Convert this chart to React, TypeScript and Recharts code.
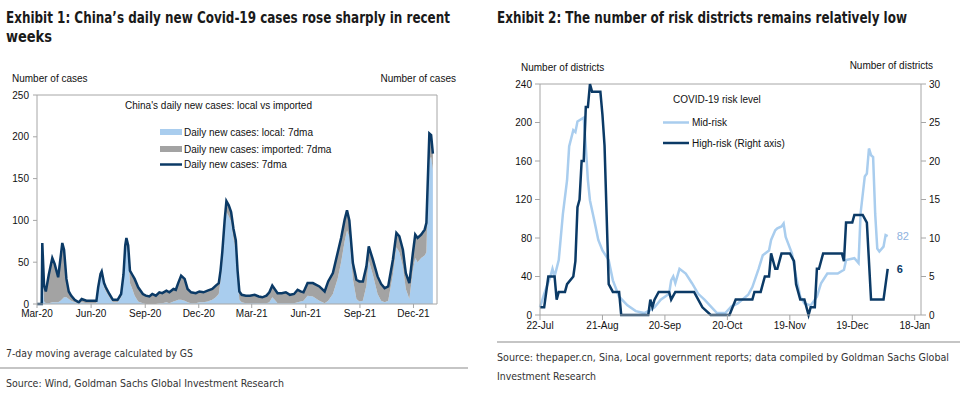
import React from "react"
import {
  ComposedChart,
  LineChart,
  Area,
  Line,
  XAxis,
  YAxis,
  ReferenceLine,
  LabelList,
} from "recharts"

const NAVY = "#0b3a66"
const LIGHT = "#a9cdee"
const GRAY = "#a3a3a3"
const AXIS = "#a6a6a6"
const FONT = "'Liberation Sans', Arial, sans-serif"
const NARROW = "'Liberation Sans Narrow', 'DejaVu Sans Condensed', 'Liberation Sans', Arial, sans-serif"

// Exhibit 1: days since 1 Mar 2020, 7dma cases
const caseDays = [
  0, 8, 9, 12, 15, 20, 26, 30, 36, 40,
  43, 46, 50, 54, 58, 64, 71, 76, 84, 92,
  101, 104, 108, 110, 114, 117, 123, 129, 137, 143,
  147, 150, 152, 155, 158, 162, 166, 172, 180, 185,
  191, 196, 202, 208, 213, 220, 225, 232, 236, 240,
  245, 251, 256, 262, 270, 276, 283, 290, 298, 304,
  309, 312, 315, 319, 322, 326, 330, 334, 338, 341,
  344, 348, 355, 362, 370, 377, 383, 390, 395, 400,
  404, 409, 416, 423, 430, 437, 443, 448, 453, 460,
  469, 480, 489, 495, 503, 511, 517, 523, 527, 531,
  537, 543, 548, 554, 560, 564, 571, 579, 585, 591,
  597, 605, 611, 616, 622, 627, 633, 639, 643, 647,
  653, 659, 662, 664, 667, 670, 673,
]
const totalCases = [
  0, 0, 73, 22, 15, 35, 55, 48, 32, 55,
  73, 65, 30, 15, 10, 5, 2, 6, 4, 4,
  4, 20, 36, 39, 25, 20, 12, 5, 5, 12,
  35, 70, 79, 70, 40, 35, 30, 20, 12, 10,
  9, 12, 10, 14, 13, 16, 14, 18, 17, 25,
  34, 30, 18, 14, 13, 15, 14, 16, 18, 22,
  25, 40, 62, 100, 123, 118, 110, 90, 76, 40,
  15, 11, 10, 10, 11, 9, 8, 10, 14, 22,
  18, 13, 13, 14, 11, 12, 17, 15, 14, 25,
  25, 21, 15, 27, 37, 61, 79, 101, 112, 100,
  49, 29, 27, 27, 45, 69, 53, 33, 24, 19,
  21, 53, 85, 81, 65, 37, 25, 61, 83, 79,
  83, 89, 97, 140, 204, 202, 180,
]
const localCases = [
  0, 0, 50, 3, 1, 1, 2, 2, 2, 4,
  6, 8, 8, 6, 4, 2, 1, 2, 1, 1,
  1, 17, 32, 35, 20, 15, 8, 2, 2, 8,
  30, 62, 70, 58, 25, 18, 10, 3, 1, 0,
  0, 0, 0, 1, 1, 2, 1, 3, 4, 5,
  5, 4, 2, 1, 1, 2, 2, 3, 5, 8,
  12, 28, 50, 88, 110, 105, 98, 78, 64, 30,
  5, 2, 1, 1, 1, 1, 1, 1, 2, 8,
  5, 1, 1, 1, 1, 1, 2, 3, 4, 10,
  9, 4, 1, 4, 12, 30, 50, 75, 88, 80,
  30, 6, 3, 4, 22, 52, 35, 12, 4, 2,
  4, 35, 68, 62, 45, 18, 6, 40, 55, 50,
  55, 58, 62, 118, 172, 176, 160,
]
const caseTickDays = [0, 92, 184, 275, 365, 457, 549, 640]
const caseTickLabels = ["Mar-20", "Jun-20", "Sep-20", "Dec-20", "Mar-21", "Jun-21", "Sep-21", "Dec-21"]
const caseYTicks = [0, 50, 100, 150, 200, 250]

// Exhibit 2: days since 22 Jul 2021
const midDays = [
  0, 2, 5, 6, 7, 9, 11, 13, 14, 16,
  17, 18, 21, 22, 23, 24, 26, 28, 30, 33,
  35, 38, 42, 46, 50, 53, 55, 58, 62, 63,
  64, 65, 67, 70, 73, 76, 79, 82, 85, 89,
  92, 95, 100, 102, 105, 107, 110, 111, 113, 114,
  116, 117, 118, 121, 123, 125, 127, 130, 133, 135,
  138, 143, 146, 147, 151, 153, 154, 156, 157, 158,
  159, 160, 161, 162, 163, 165, 166, 167,
]
const midRisk = [
  8, 22, 40, 48, 40, 57, 105, 140, 175, 192,
  190, 201, 205, 175, 140, 119, 99, 78, 67, 57,
  36, 19, 10, 4, 2, 5, 8, 16, 22, 36,
  40, 33, 48, 43, 33, 22, 16, 9, 2, 2,
  9, 12, 21, 29, 48, 62, 67, 78, 88, 90,
  92, 95, 81, 64, 40, 19, 12, 10, 19, 33,
  43, 43, 47, 57, 59, 54, 106, 144, 147, 173,
  166, 164, 105, 69, 66, 71, 83, 82,
]
const highDays = [
  0, 2, 4, 7, 8, 9, 12, 13, 16, 17,
  18, 19, 20, 21, 22, 23, 24, 25, 29, 30,
  31, 32, 33, 35, 38, 39, 52, 53, 54, 55,
  57, 62, 63, 65, 74, 76, 78, 82, 91, 94,
  102, 103, 106, 107, 108, 110, 111, 113, 114, 116,
  120, 122, 123, 125, 127, 129, 130, 132, 133, 134,
  136, 145, 146, 147, 150, 151, 155, 157, 159, 165,
  167,
]
const highRisk = [
  1, 1, 5, 5, 2, 3, 3, 4, 5, 7,
  14, 15, 20, 20, 27, 27, 30, 29, 29, 26,
  22, 13, 4, 3, 3, 0, 0, 2, 1, 2,
  3, 3, 2, 3, 3, 2, 1, 0, 0, 2,
  2, 3, 3, 4, 5, 5, 8, 6, 6, 8,
  8, 7, 4, 2, 2, 0, 1, 1, 6, 6,
  8, 8, 7, 12, 12, 13, 13, 12, 2, 2,
  6,
]
const riskTickDays = [0, 30, 60, 90, 120, 150, 180]
const riskTickLabels = ["22-Jul", "21-Aug", "20-Sep", "20-Oct", "19-Nov", "19-Dec", "18-Jan"]
const midTicks = [0, 40, 80, 120, 160, 200, 240]
const highTicks = [0, 5, 10, 15, 20, 25, 30]

const caseData = caseDays.map((d, i) => ({
  d,
  local: localCases[i],
  imported: totalCases[i] - localCases[i],
  total: totalCases[i],
}))

const riskDays = Array.from(new Set([...midDays, ...highDays])).sort((a, b) => a - b)
const riskData = riskDays.map((d) => {
  const m = midDays.indexOf(d)
  const h = highDays.indexOf(d)
  return { d, mid: m >= 0 ? midRisk[m] : null, high: h >= 0 ? highRisk[h] : null }
})
const lastRisk = riskData.length - 1

const tickStyle = { fill: "#111", fontSize: 10, fontFamily: FONT }

function CasesChart() {
  return (
    <ComposedChart
      width={480}
      height={330}
      data={caseData}
      margin={{ top: 95, right: 8, bottom: 6, left: 7 }}
    >
      <XAxis
        dataKey="d"
        type="number"
        domain={[0, 680]}
        ticks={caseTickDays}
        tickFormatter={(v) => caseTickLabels[caseTickDays.indexOf(v)]}
        tick={tickStyle}
        stroke={AXIS}
        tickSize={4}
        tickMargin={2}
        height={20}
        interval={0}
      />
      <YAxis
        yAxisId="l"
        domain={[0, 250]}
        ticks={caseYTicks}
        tick={tickStyle}
        stroke={AXIS}
        tickSize={4}
        tickMargin={4}
        width={30}
      />
      <YAxis
        yAxisId="r"
        orientation="right"
        domain={[0, 250]}
        ticks={caseYTicks}
        tick={tickStyle}
        stroke={AXIS}
        tickSize={2}
        tickMargin={1}
        width={35}
      />
      <ReferenceLine yAxisId="l" y={250} stroke={AXIS} />
      <Area
        yAxisId="l"
        type="linear"
        dataKey="local"
        stackId="a"
        stroke="none"
        fill={LIGHT}
        fillOpacity={1}
        isAnimationActive={false}
      />
      <Area
        yAxisId="l"
        type="linear"
        dataKey="imported"
        stackId="a"
        stroke="none"
        fill={GRAY}
        fillOpacity={1}
        isAnimationActive={false}
      />
      <Line
        yAxisId="l"
        type="linear"
        dataKey="total"
        stroke={NAVY}
        strokeWidth={2.5}
        dot={false}
        activeDot={false}
        isAnimationActive={false}
      />
    </ComposedChart>
  )
}

function RiskChart() {
  return (
    <LineChart
      width={479}
      height={335}
      data={riskData}
      margin={{ top: 84, right: 8, bottom: 0, left: 10 }}
    >
      <XAxis
        dataKey="d"
        type="number"
        domain={[0, 183]}
        ticks={riskTickDays}
        tickFormatter={(v) => riskTickLabels[riskTickDays.indexOf(v)]}
        tick={tickStyle}
        stroke={AXIS}
        tickSize={5}
        tickMargin={2}
        height={20}
        interval={0}
      />
      <YAxis
        yAxisId="l"
        domain={[0, 240]}
        ticks={midTicks}
        tick={tickStyle}
        stroke={AXIS}
        tickSize={5}
        tickMargin={3}
        width={40}
      />
      <YAxis
        yAxisId="r"
        orientation="right"
        domain={[0, 30]}
        ticks={highTicks}
        tick={tickStyle}
        stroke={AXIS}
        tickSize={5}
        tickMargin={3}
        width={40}
      />
      <ReferenceLine yAxisId="l" y={240} stroke={AXIS} />
      <Line
        yAxisId="l"
        type="linear"
        dataKey="mid"
        stroke={LIGHT}
        strokeWidth={2.5}
        dot={false}
        activeDot={false}
        connectNulls
        isAnimationActive={false}
      >
        <LabelList
          dataKey="mid"
          content={(p: any) =>
            p.index === lastRisk ? (
              <text x={p.x + 9} y={p.y + 4} fontSize={11} fontFamily={FONT} fill="#8eb2de">
                {p.value}
              </text>
            ) : null
          }
        />
      </Line>
      <Line
        yAxisId="r"
        type="linear"
        dataKey="high"
        stroke={NAVY}
        strokeWidth={2.5}
        dot={false}
        activeDot={false}
        connectNulls
        isAnimationActive={false}
      >
        <LabelList
          dataKey="high"
          content={(p: any) =>
            p.index === lastRisk ? (
              <text
                x={p.x + 9}
                y={p.y + 4}
                fontSize={11}
                fontWeight="bold"
                fontFamily={FONT}
                fill={NAVY}
              >
                {p.value}
              </text>
            ) : null
          }
        />
      </Line>
    </LineChart>
  )
}

// squeezed text: scaled horizontally so that it spans exactly `w` pixels
function Narrow({ x, y, w, sx, style, children }: any) {
  return (
    <text
      transform={`translate(${x},${y}) scale(${sx},1)`}
      textLength={w / sx}
      lengthAdjust="spacingAndGlyphs"
      {...style}
    >
      {children}
    </text>
  )
}

function Overlay() {
  const t = { fontFamily: FONT, fontSize: 10, fill: "#111" }
  const title = { fontFamily: NARROW, fontSize: 16.5, fontWeight: 700, fill: "#1a1a1a" }
  const foot = { fontFamily: NARROW, fontSize: 11, fill: "#333" }
  return (
    <svg
      width={969}
      height={394}
      style={{ position: "absolute", left: 0, top: 0, pointerEvents: "none" }}
    >
      <Narrow x={6} y={22.5} w={444} sx={0.8} style={title}>
        Exhibit 1: China’s daily new Covid-19 cases rose sharply in recent
      </Narrow>
      <Narrow x={6} y={42} w={46} sx={0.8} style={title}>
        weeks
      </Narrow>
      <Narrow x={497} y={22.5} w={410} sx={0.8} style={title}>
        Exhibit 2: The number of risk districts remains relatively low
      </Narrow>

      <text x={12} y={82} {...t}>Number of cases</text>
      <text x={456} y={82} {...t} textAnchor="end">Number of cases</text>
      <text x={521} y={71} {...t}>Number of districts</text>
      <text x={933} y={69} {...t} textAnchor="end">Number of districts</text>

      <text x={125} y={108.5} {...t}>China's daily new cases: local vs imported</text>
      <rect x={160} y={129} width={22} height={6} fill={LIGHT} />
      <text x={184} y={135.5} {...t}>Daily new cases: local: 7dma</text>
      <rect x={160} y={146} width={22} height={6} fill={GRAY} />
      <text x={184} y={152.5} {...t}>Daily new cases: imported: 7dma</text>
      <line x1={160} x2={182} y1={164.5} y2={164.5} stroke={NAVY} strokeWidth={2.5} />
      <text x={184} y={168} {...t}>Daily new cases: 7dma</text>

      <text x={673} y={102.5} {...t}>COVID-19 risk level</text>
      <line x1={663} x2={689} y1={122.5} y2={122.5} stroke={LIGHT} strokeWidth={2.5} />
      <text x={692} y={126} {...t}>Mid-risk</text>
      <line x1={663} x2={689} y1={143} y2={143} stroke={NAVY} strokeWidth={2.5} />
      <text x={692} y={146.5} {...t}>High-risk (Right axis)</text>

      <Narrow x={6} y={357} w={187} sx={0.85} style={foot}>
        7-day moving average calculated by GS
      </Narrow>
      <line x1={0} x2={468} y1={368} y2={368} stroke="#8c8c8c" strokeWidth={1.2} />
      <Narrow x={6} y={387} w={278} sx={0.85} style={foot}>
        Source: Wind, Goldman Sachs Global Investment Research
      </Narrow>

      <line x1={497} x2={960} y1={342} y2={342} stroke="#8c8c8c" strokeWidth={1.2} />
      <Narrow x={497} y={361} w={452} sx={0.85} style={foot}>
        Source: thepaper.cn, Sina, Local government reports; data compiled by Goldman Sachs Global
      </Narrow>
      <Narrow x={497} y={380} w={99} sx={0.85} style={foot}>
        Investment Research
      </Narrow>
    </svg>
  )
}

export default function App() {
  return (
    <div
      style={{
        position: "absolute",
        left: 0,
        top: 0,
        width: 969,
        height: 394,
        background: "#fff",
        overflow: "hidden",
      }}
    >
      <div style={{ position: "absolute", left: 0, top: 0 }}>
        <CasesChart />
      </div>
      <div style={{ position: "absolute", left: 490, top: 0 }}>
        <RiskChart />
      </div>
      <Overlay />
    </div>
  )
}
